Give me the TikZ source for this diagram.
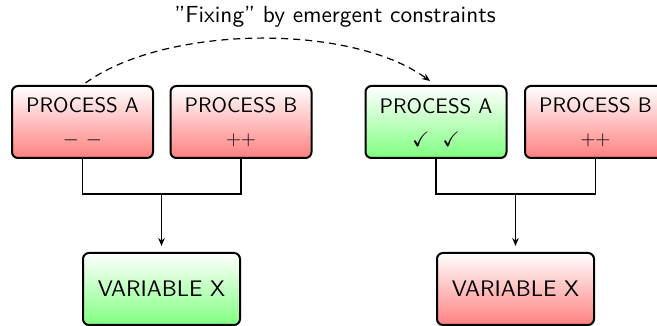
\documentclass[tikz,border=0pt]{standalone}
\usepackage{amssymb}
\usepackage{fontspec}
\newfontfamily\tensans{lmsans10-regular.otf}[Ligatures=TeX]
\usetikzlibrary{arrows.meta}
\begin{document}
\begin{tikzpicture}[x=1pt,y=1pt,
  font=\tensans\fontsize{21}{33}\selectfont,
  box/.style={draw=black, line width=2pt, rounded corners=6pt, align=center, inner sep=0pt},
  proc/.style={box, minimum width=141pt, minimum height=72pt},
  var/.style={box, minimum width=157pt, minimum height=72pt, font=\tensans\fontsize{22.5}{30}\selectfont},
  bad/.style={top color=white, bottom color=red!50},
  good/.style={top color=white, bottom color=green!50},
  conn/.style={line width=1.2pt},
  tip/.style={-{Stealth[length=8pt,width=6.5pt]}},
  arr/.style={conn, tip, shorten >=6pt}
]
\useasboundingbox (0,0) rectangle (657,326);
\node[font=\tensans\fontsize{23.3}{26}\selectfont] (title) at (335,309) {''Fixing'' by emergent constraints};
\node[proc,bad] (a1) at (82.5,204) {PROCESS A\\$-\ -$};
\node[proc,bad] (b1) at (241,204) {PROCESS B\\$++$};
\node[proc,good] (a2) at (436,204) {PROCESS A\\$\checkmark\ \;\checkmark$};
\node[proc,bad] (b2) at (595.5,204) {PROCESS B\\$++$};
\node[var,good] (v1) at (161.5,37) {VARIABLE X};
\node[var,bad] (v2) at (515.5,37) {VARIABLE X};
\coordinate (j1) at (161.5,132);
\coordinate (j2) at (515.5,132);
\draw[conn] (a1.south) |- (j1) -| (b1.south);
\draw[conn] (a2.south) |- (j2) -| (b2.south);
\draw[arr] (j1) -- (v1.north);
\draw[arr] (j2) -- (v2.north);
\draw[conn, dash pattern=on 7pt off 5pt, tip]
  ([xshift=3pt,yshift=2pt]a1.north) .. controls +(80,58) and +(-80,58) .. ([xshift=-6pt,yshift=4pt]a2.north);
\end{tikzpicture}
\end{document}
